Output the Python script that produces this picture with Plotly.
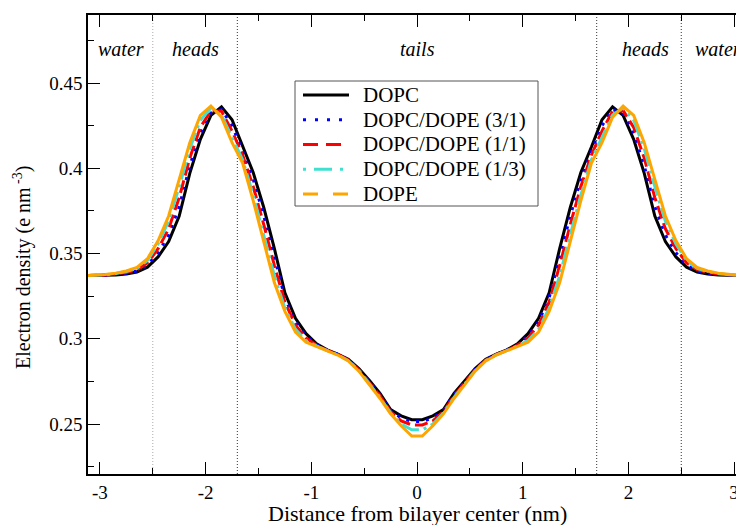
import plotly.graph_objects as go

x_nm = [-3.15, -3.05, -2.95, -2.85, -2.75, -2.65, -2.55, -2.45, -2.35, -2.25, -2.15, -2.05,
        -1.95, -1.85, -1.75, -1.65, -1.55, -1.45, -1.35, -1.25, -1.15, -1.05, -0.95, -0.85,
        -0.75, -0.65, -0.55, -0.45, -0.35, -0.25, -0.15, -0.05,
        0.05, 0.15, 0.25, 0.35, 0.45, 0.55, 0.65, 0.75, 0.85, 0.95, 1.05, 1.15,
        1.25, 1.35, 1.45, 1.55, 1.65, 1.75, 1.85, 1.95, 2.05, 2.15, 2.25, 2.35,
        2.45, 2.55, 2.65, 2.75, 2.85, 2.95, 3.05, 3.15]

dopc = [0.3370, 0.3370, 0.3371, 0.3374, 0.3380, 0.3392, 0.3420, 0.3480, 0.3570, 0.3720, 0.3970, 0.4170,
        0.4310, 0.4360, 0.4285, 0.4125, 0.3975, 0.3770, 0.3530, 0.3270, 0.3120, 0.3030, 0.2970, 0.2935,
        0.2910, 0.2880, 0.2825, 0.2755, 0.2680, 0.2585, 0.2548, 0.2525,
        0.2525, 0.2548, 0.2585, 0.2680, 0.2755, 0.2825, 0.2880, 0.2910, 0.2935, 0.2970, 0.3030, 0.3120,
        0.3270, 0.3530, 0.3770, 0.3975, 0.4125, 0.4285, 0.4360, 0.4310, 0.4170, 0.3970, 0.3720, 0.3570,
        0.3480, 0.3420, 0.3392, 0.3380, 0.3374, 0.3371, 0.3370, 0.3370]

dopc_dope_31 = [0.3370, 0.3370, 0.3373, 0.3377, 0.3384, 0.3398, 0.3432, 0.3504, 0.3608, 0.3774, 0.4015, 0.4205,
                0.4324, 0.4345, 0.4250, 0.4100, 0.3935, 0.3720, 0.3480, 0.3240, 0.3100, 0.3018, 0.2966, 0.2934,
                0.2909, 0.2878, 0.2821, 0.2749, 0.2673, 0.2580, 0.2535, 0.2515,
                0.2515, 0.2535, 0.2580, 0.2673, 0.2749, 0.2821, 0.2878, 0.2909, 0.2934, 0.2966, 0.3018, 0.3100,
                0.3240, 0.3480, 0.3720, 0.3935, 0.4100, 0.4250, 0.4345, 0.4324, 0.4205, 0.4015, 0.3774, 0.3608,
                0.3504, 0.3432, 0.3398, 0.3384, 0.3377, 0.3373, 0.3370, 0.3370]

dopc_dope_11 = [0.3370, 0.3371, 0.3374, 0.3380, 0.3389, 0.3405, 0.3445, 0.3528, 0.3645, 0.3828, 0.4060, 0.4240,
                0.4338, 0.4335, 0.4218, 0.4078, 0.3893, 0.3670, 0.3430, 0.3215, 0.3080, 0.3005, 0.2962, 0.2932,
                0.2908, 0.2875, 0.2818, 0.2742, 0.2665, 0.2573, 0.2518, 0.2495,
                0.2495, 0.2518, 0.2573, 0.2665, 0.2742, 0.2818, 0.2875, 0.2908, 0.2932, 0.2962, 0.3005, 0.3080,
                0.3215, 0.3430, 0.3670, 0.3893, 0.4078, 0.4218, 0.4335, 0.4338, 0.4240, 0.4060, 0.3828, 0.3645,
                0.3528, 0.3445, 0.3405, 0.3389, 0.3380, 0.3374, 0.3371, 0.3370]

dopc_dope_13 = [0.3370, 0.3372, 0.3376, 0.3383, 0.3395, 0.3413, 0.3460, 0.3556, 0.3690, 0.3892, 0.4114, 0.4282,
                0.4354, 0.4312, 0.4177, 0.4050, 0.3843, 0.3610, 0.3370, 0.3180, 0.3055, 0.2990, 0.2958, 0.2931,
                0.2906, 0.2872, 0.2813, 0.2735, 0.2656, 0.2565, 0.2500, 0.2466,
                0.2466, 0.2500, 0.2565, 0.2656, 0.2735, 0.2813, 0.2872, 0.2906, 0.2931, 0.2958, 0.2990, 0.3055,
                0.3180, 0.3370, 0.3610, 0.3843, 0.4050, 0.4177, 0.4312, 0.4354, 0.4282, 0.4114, 0.3892, 0.3690,
                0.3556, 0.3460, 0.3413, 0.3395, 0.3383, 0.3376, 0.3372, 0.3370]

dope = [0.3370, 0.3372, 0.3377, 0.3385, 0.3398, 0.3418, 0.3470, 0.3575, 0.3720, 0.3935, 0.4150, 0.4310,
        0.4365, 0.4300, 0.4150, 0.4030, 0.3810, 0.3570, 0.3330, 0.3160, 0.3040, 0.2980, 0.2955, 0.2930,
        0.2905, 0.2870, 0.2810, 0.2730, 0.2650, 0.2560, 0.2490, 0.2430,
        0.2430, 0.2490, 0.2560, 0.2650, 0.2730, 0.2810, 0.2870, 0.2905, 0.2930, 0.2955, 0.2980, 0.3040,
        0.3160, 0.3330, 0.3570, 0.3810, 0.4030, 0.4150, 0.4300, 0.4365, 0.4310, 0.4150, 0.3935, 0.3720,
        0.3575, 0.3470, 0.3418, 0.3398, 0.3385, 0.3377, 0.3372, 0.3370]

series_names = ["DOPC", "DOPC/DOPE (3/1)", "DOPC/DOPE (1/1)", "DOPC/DOPE (1/3)", "DOPE"]

region_names = ["water", "heads", "tails", "heads", "water"]
region_x = [-2.8, -2.1, 0.0, 2.16, 2.85]
region_y = 0.4699
boundaries = [-2.5, -1.7, 1.7, 2.5]
boundary_colors = ["#aaaaaa", "#333333", "#333333", "#333333"]

y_tickvals = [0.25, 0.3, 0.35, 0.4, 0.45]
y_ticktext = ["0.25", "0.3", "0.35", "0.4", "0.45"]
x_tickvals = [-3, -2, -1, 0, 1, 2, 3]
x_ticktext = ["-3", "-2", "-1", "0", "1", "2", "3"]

x_title = "Distance from bilayer center (nm)"
y_title = "Electron density (e nm<sup> -3</sup>)"

FONT = "Liberation Serif, DejaVu Serif, Times New Roman, serif"

styles = [
    dict(color="black", width=3, dash="solid"),
    dict(color="#0000ff", width=3, dash="3px,7px"),
    dict(color="#ff0000", width=3, dash="13px,5px"),
    dict(color="#40e0d0", width=3, dash="18px,5px,3px,5px"),
    dict(color="#ffa500", width=3, dash="solid"),
]
legend_styles = [
    dict(color="black", width=3, dash="solid"),
    dict(color="#0000ff", width=3, dash="3px,9px"),
    dict(color="#ff0000", width=3, dash="15px,8px"),
    dict(color="#40e0d0", width=3, dash="3px,8px,18px,8px"),
    dict(color="#ffa500", width=3, dash="15px,15px"),
]

# plot-area geometry in pixels (for the hand-placed legend and titles)
L, R, T, B = 88, 736, 15, 474
W, H = R - L, B - T


def px_x(px):
    return (px - L) / W


def px_y(py):
    return (B - py) / H


fig = go.Figure()

for xb, c in zip(boundaries, boundary_colors):
    fig.add_shape(type="line", x0=xb, x1=xb, y0=0, y1=1, xref="x", yref="paper",
                  line=dict(color=c, width=1, dash="1px,2px"), layer="below")

all_series = [dopc, dopc_dope_31, dopc_dope_11, dopc_dope_13, dope]
for name, vals, st in zip(series_names, all_series, styles):
    fig.add_trace(go.Scatter(x=x_nm, y=vals, mode="lines", line=st, name=name,
                             showlegend=False, hoverinfo="skip"))

for name, xr in zip(region_names, region_x):
    fig.add_annotation(x=xr, y=region_y, xref="x", yref="y", text="<i>" + name + "</i>",
                       showarrow=False,
                       font=dict(family=FONT, size=20, color="black"),
                       xanchor="center", yanchor="middle")

# legend box
fig.add_shape(type="rect", xref="paper", yref="paper",
              x0=px_x(295), x1=px_x(538), y0=px_y(206), y1=px_y(81),
              fillcolor="white", line=dict(color="#555555", width=1), layer="above")
legend_rows_px = [95, 119.8, 144.5, 169.2, 194]
for name, st, ry in zip(series_names, legend_styles, legend_rows_px):
    fig.add_shape(type="line", xref="paper", yref="paper",
                  x0=px_x(303), x1=px_x(349), y0=px_y(ry), y1=px_y(ry),
                  line=st, layer="above")
    fig.add_annotation(x=px_x(361), y=px_y(ry), xref="paper", yref="paper", text=name,
                       showarrow=False, xanchor="left", yanchor="middle",
                       font=dict(family=FONT, size=21, color="black"))

# axis titles
fig.add_annotation(x=px_x(417), y=px_y(513), xref="paper", yref="paper", text=x_title,
                   showarrow=False, xanchor="center", yanchor="middle",
                   font=dict(family=FONT, size=22, color="black"))
fig.add_annotation(x=px_x(22), y=px_y(268), xref="paper", yref="paper", text=y_title,
                   showarrow=False, xanchor="center", yanchor="middle", textangle=-90,
                   font=dict(family=FONT, size=20, color="black"))

fig.update_layout(
    width=736, height=525,
    margin=dict(l=L, r=0, t=T, b=525 - B, autoexpand=False),
    paper_bgcolor="white", plot_bgcolor="white",
    font=dict(family=FONT, size=19, color="black"),
    showlegend=False,
    xaxis=dict(range=[-3.113, 3.018], showgrid=False, zeroline=False, automargin=False,
               showline=True, linecolor="black", linewidth=1.5, mirror="allticks",
               ticks="inside", ticklen=12, tickcolor="black", tickwidth=1,
               tickvals=x_tickvals, ticktext=x_ticktext, ticklabeloverflow="allow",
               tickfont=dict(family=FONT, size=19, color="black"),
               minor=dict(ticks="inside", ticklen=6, dtick=0.5, tick0=0, tickcolor="black", tickwidth=1)),
    yaxis=dict(range=[0.2207, 0.4899], showgrid=False, zeroline=False, automargin=False,
               showline=True, linecolor="black", linewidth=1.5,
               ticks="inside", ticklen=12, tickcolor="black", tickwidth=1,
               tickvals=y_tickvals, ticktext=y_ticktext,
               tickfont=dict(family=FONT, size=19, color="black"),
               minor=dict(ticks="inside", ticklen=6, dtick=0.05, tick0=0.225, tickcolor="black", tickwidth=1)),
)

fig.write_html("out.html", config={"displayModeBar": False},
               post_script="document.body.style.margin='0';document.body.style.padding='0';")
